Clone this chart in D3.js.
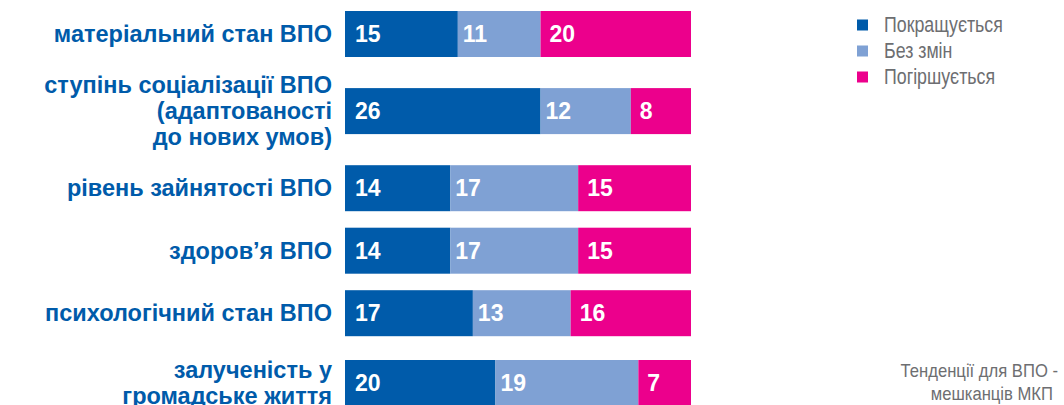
<!DOCTYPE html>
<html>
<head>
<meta charset="utf-8">
<script src="https://cdn.jsdelivr.net/npm/d3@7"></script>
<style>
  html, body { margin: 0; padding: 0; background: #fff; }
  svg { display: block; }
</style>
</head>
<body>
<div id="chart"></div>
<script>
// ---- data ----
const categories = [
  "матеріальний стан ВПО",
  "ступінь соціалізації ВПО\n(адаптованості\nдо нових умов)",
  "рівень зайнятості ВПО",
  "здоров’я ВПО",
  "психологічний стан ВПО",
  "залученість у\nгромадське життя"
];
const seriesNames = ["Покращується", "Без змін", "Погіршується"];
const improves = [15, 26, 14, 14, 17, 20];
const unchanged = [11, 12, 17, 17, 13, 19];
const worsens  = [20, 8, 15, 15, 16, 7];
const noteLines = ["Тенденції для ВПО -", "мешканців МКП"];

// ---- layout / style ----
const W = 1064, H = 405;
const colors = ["#005BAA", "#7FA1D4", "#EC008C"];
const labelColor = "#005BAA";
const grayText = "#6D6E71";
const barH = 46, rowGap = 16.5, extraLine = 7.3, lineH = 26;
const valuePad = [10, 5, 9];
const boldFont = "'Liberation Sans', Arial, Helvetica, sans-serif";
const narrowFont = "'Liberation Sans', Arial, sans-serif";

const svg = d3.select("#chart").append("svg")
  .attr("width", W).attr("height", H)
  .style("background", "#fff");

const rows = categories.map((c, i) => ({
  name: c,
  lines: c.split("\n"),
  values: [improves[i], unchanged[i], worsens[i]]
}));

// cumulative row centres, spacing grows with label line count
let acc = 0;
rows.forEach((r, i) => {
  if (i > 0) {
    const prev = rows[i - 1];
    acc += barH + rowGap + extraLine * ((prev.lines.length - 1) + (r.lines.length - 1));
  }
  r.pos = acc;
});

const y = d3.scaleLinear().domain([0, acc]).range([34, 383]);
const total = d3.max(rows, r => d3.sum(r.values));
const x = d3.scaleLinear().domain([0, total]).range([345, 691]);

// stacked data
const stackData = rows.map(r => {
  const o = { name: r.name };
  seriesNames.forEach((s, j) => o[s] = r.values[j]);
  return o;
});
const stacked = d3.stack().keys(seriesNames)(stackData);

const gBars = svg.append("g");
const gVals = svg.append("g")
  .attr("fill", "#fff")
  .attr("font-family", boldFont)
  .attr("font-weight", "bold")
  .attr("font-size", 23);
stacked.forEach((layer, j) => {
  gBars.append("g").attr("fill", colors[j])
    .selectAll("rect").data(layer).join("rect")
    .attr("x", d => x(d[0]))
    .attr("width", d => x(d[1]) - x(d[0]))
    .attr("y", (d, i) => y(rows[i].pos) - barH / 2)
    .attr("height", barH);
  gVals.append("g").selectAll("text").data(layer).join("text")
    .attr("x", d => x(d[0]) + valuePad[j])
    .attr("y", (d, i) => y(rows[i].pos) + 8.2)
    .text(d => d[1] - d[0]);
});

// category labels
const gLab = svg.append("g")
  .attr("font-family", boldFont)
  .attr("font-weight", "bold")
  .attr("font-size", 23.5)
  .attr("fill", labelColor)
  .attr("text-anchor", "end");
rows.forEach(r => {
  const n = r.lines.length;
  r.lines.forEach((ln, k) => {
    gLab.append("text")
      .attr("x", 332)
      .attr("y", y(r.pos) + (k - (n - 1) / 2) * lineH + 8)
      .text(ln);
  });
});

// legend (condensed look via horizontal scaling)
const gLeg = svg.append("g");
seriesNames.forEach((s, j) => {
  const cy = 25 + j * 26;
  gLeg.append("rect").attr("x", 857).attr("y", cy - 5.5).attr("width", 11).attr("height", 11).attr("fill", colors[j]);
  gLeg.append("text")
    .attr("transform", `translate(884,${cy + 7}) scale(0.79,1)`)
    .attr("font-family", narrowFont)
    .attr("font-size", 22.5)
    .attr("fill", grayText)
    .text(s);
});

// note
const gNote = svg.append("g");
noteLines.forEach((t, k) => {
  gNote.append("text")
    .attr("transform", `translate(${k === 0 ? 1058 : 1053},${377 + k * 23}) scale(0.9,1)`)
    .attr("text-anchor", "end")
    .attr("font-family", narrowFont)
    .attr("font-size", 18.5)
    .attr("fill", grayText)
    .text(t);
});
</script>
</body>
</html>
